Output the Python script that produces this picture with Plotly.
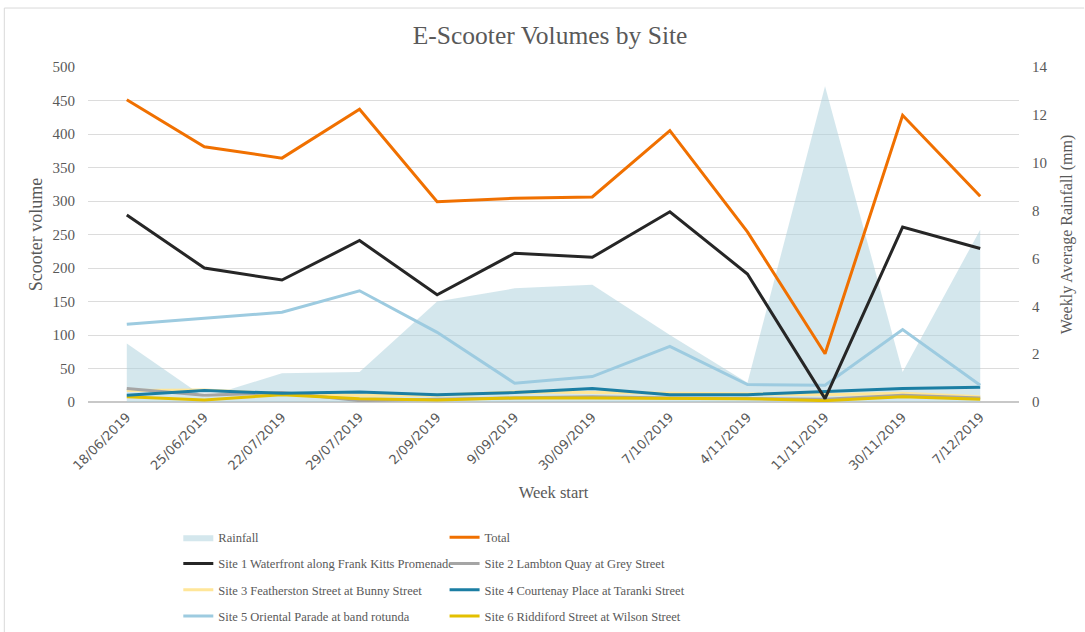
import plotly.graph_objects as go

# Week start dates (category axis)
weeks = ["18/06/2019", "25/06/2019", "22/07/2019", "29/07/2019", "2/09/2019",
         "9/09/2019", "30/09/2019", "7/10/2019", "4/11/2019", "11/11/2019",
         "30/11/2019", "7/12/2019"]

# Weekly average rainfall (mm)
rainfall = [2.45, 0.2, 1.2, 1.25, 4.2, 4.75, 4.9, 2.8, 0.8, 13.2, 1.25, 7.2]

# Scooter volumes
total = [451, 381, 364, 437, 299, 304, 306, 405, 254, 72, 428, 307]
site1 = [279, 200, 182, 241, 160, 222, 216, 284, 191, 5, 261, 229]
site2 = [20, 10, 14, 2, 4, 6, 8, 6, 5, 4, 10, 6]
site3 = [17, 18, 12, 10, 10, 15, 14, 13, 12, 11, 13, 8]
site4 = [10, 17, 13, 15, 11, 14, 20, 11, 11, 16, 20, 22]
site5 = [116, 125, 134, 166, 104, 28, 38, 83, 26, 25, 108, 25]
site6 = [8, 3, 11, 5, 3, 6, 6, 6, 5, 2, 8, 4]

GREY = "#595959"
SERIF = "Liberation Serif"
SANS = "DejaVu Sans"

fig = go.Figure()

# Rainfall area sits on the base axis so it is drawn behind the volume lines
fig.add_trace(go.Scatter(
    x=weeks, y=rainfall, name="Rainfall", mode="lines",
    fill="tozeroy", line=dict(width=0, color="rgba(0,0,0,0)"),
    fillcolor="rgba(170,208,220,0.5)", yaxis="y", legend="legend",
    legendrank=1, legendgroup="rain",
))

line_series = [
    ("Total", total, "#f07000", "legend2"),
    ("Site 1 Waterfront along Frank Kitts Promenade", site1, "#262626", "legend"),
    ("Site 2 Lambton Quay at Grey Street", site2, "#a5a5a5", "legend2"),
    ("Site 3 Featherston Street at Bunny Street", site3, "#ffe699", "legend"),
    ("Site 4 Courtenay Place at Taranki Street", site4, "#1b7ea3", "legend2"),
    ("Site 5 Oriental Parade at band rotunda", site5, "#9dcbe0", "legend"),
    ("Site 6 Riddiford Street at Wilson Street", site6, "#e3c000", "legend2"),
]
draw_order = [3, 2, 6, 4, 5, 1, 0]
for i in draw_order:
    name, vals, color, leg = line_series[i]
    fig.add_trace(go.Scatter(
        x=weeks, y=vals, name=name, mode="lines",
        line=dict(color=color, width=3), yaxis="y2", legend=leg,
        legendrank=i + 2, legendgroup=f"g{i}",
    ))

legend_style = dict(
    yref="container", y=0.002, xanchor="left", yanchor="bottom",
    orientation="v", tracegroupgap=7, itemwidth=30, traceorder="grouped",
    font=dict(family=SERIF, size=12.5, color=GREY),
    bgcolor="rgba(0,0,0,0)",
)

frame = dict(type="line", xref="paper", yref="paper",
             line=dict(color="#d9d9d9", width=1))

fig.update_layout(
    width=1085, height=632,
    margin=dict(l=88, r=63, t=67, b=230),
    paper_bgcolor="white", plot_bgcolor="white",
    title=dict(text="E-Scooter Volumes by Site", x=0.507, xanchor="center",
               y=0.945, yanchor="middle",
               font=dict(family=SERIF, size=25.5, color=GREY)),
    xaxis=dict(
        type="category", range=[-0.5, 11.5], tickangle=-45,
        tickfont=dict(family=SANS, size=13, color=GREY),
        showgrid=False, showline=False, ticks="", ticklabelstandoff=4,
        title=dict(text="Week start", standoff=14,
                   font=dict(family=SERIF, size=16.5, color=GREY)),
    ),
    yaxis=dict(
        side="right", range=[0, 14], tickvals=[0, 2, 4, 6, 8, 10, 12, 14],
        showgrid=False, zeroline=False, ticklabelstandoff=12,
        tickfont=dict(family=SERIF, size=15, color=GREY),
        title=dict(text="Weekly Average Rainfall (mm)", standoff=14,
                   font=dict(family=SERIF, size=16, color=GREY)),
    ),
    yaxis2=dict(
        overlaying="y", side="left", range=[0, 500], dtick=50,
        showgrid=True, gridcolor="#dcdcdc", gridwidth=1.3,
        zeroline=True, zerolinecolor="#c8c8c8", zerolinewidth=1.5,
        ticklabelstandoff=12,
        tickfont=dict(family=SERIF, size=15, color=GREY),
        title=dict(text="Scooter volume", standoff=5,
                   font=dict(family=SERIF, size=18, color=GREY)),
    ),
    legend=dict(x=0.097, **legend_style),
    legend2=dict(x=0.383, **legend_style),
    shapes=[
        dict(frame, x0=-0.0899, x1=1.07, y0=1.176, y1=1.176),
        dict(frame, x0=-0.0899, x1=-0.0899, y0=-0.7, y1=1.176),
    ],
)

fig.write_html("out.html")
